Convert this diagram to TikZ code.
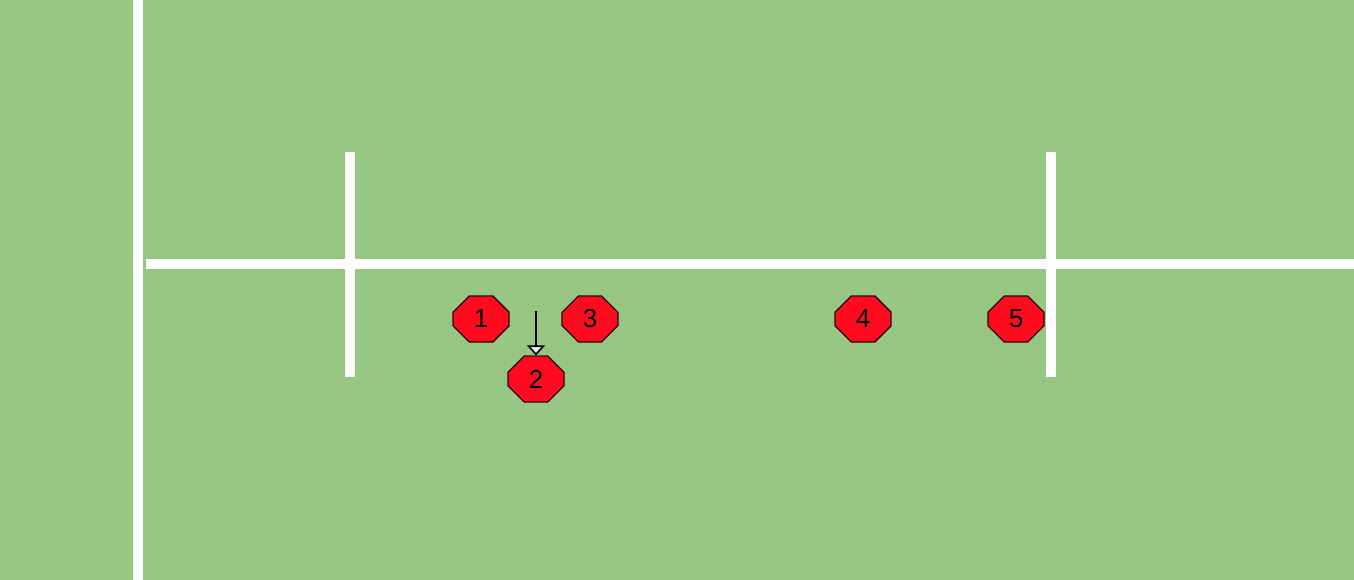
\documentclass[tikz,border=0pt]{standalone}
\usepackage{fontspec}
\setmainfont{Liberation Sans}
\usepackage{xcolor}
\definecolor{cPitch}{HTML}{97C683}
\definecolor{cLine}{HTML}{FFFFFF}
\definecolor{cPlayer}{HTML}{FF0A1E}
\definecolor{cEdge}{HTML}{2A0505}
\definecolor{cTip}{HTML}{DCE6F0}
\usepackage{tikz}
\usetikzlibrary{positioning,arrows.meta,shapes.misc}
\tikzset{
  line-white/.style={draw=cLine,line width=10pt},
  node-player/.style={chamfered rectangle,draw=cEdge,fill=cPlayer,line width=1.3pt,
    minimum width=56pt,minimum height=46pt,inner sep=0pt,
    chamfered rectangle xsep=14pt,chamfered rectangle ysep=12pt,
    font=\fontsize{26}{30}\selectfont},
  arrow-run/.style={-{Triangle[length=10pt,width=18pt,fill=cTip]},
    line width=1.5pt,draw=black},
}
\begin{document}
\begin{tikzpicture}[x=1pt,y=-1pt]
  \fill[cPitch] (0,0) rectangle (1354,580);
  \useasboundingbox (0,0) rectangle (1354,580);
  % touch line and field lines
  \draw[line-white] (138,0) -- (138,580);
  \draw[line-white] (146,264) -- (1354,264);
  \draw[line-white] (350,152) -- (350,377);
  \draw[line-white] (1051,152) -- (1051,377);
  % players
  \node[node-player] (p1) at (481,319) {1};
  \node[node-player] (p3) at (590,319) {3};
  \node[node-player] (p2) at (536,379) {2};
  \node[node-player] (p4) at (863,319) {4};
  \node[node-player] (p5) at (1016,319) {5};
  \coordinate (run2) at (536,311);
  \draw[arrow-run] (run2) -- (p2.north);
\end{tikzpicture}
\end{document}
